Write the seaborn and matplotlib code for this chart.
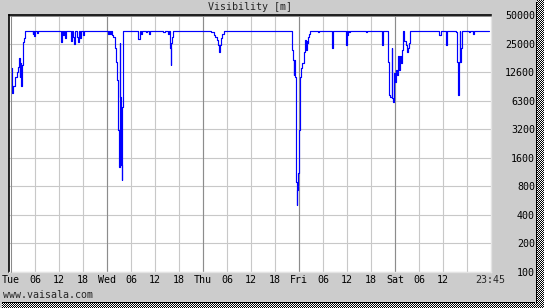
import numpy as np
import pandas as pd
import matplotlib
matplotlib.use("Agg")
import matplotlib.pyplot as plt
import seaborn as sns
from matplotlib.patches import Rectangle
from matplotlib.lines import Line2D
from matplotlib.ticker import NullLocator

# ---------------- data ----------------
TOP = 35000
# hours since Tue 00:00, visibility in metres (value holds until next time)
hours = [
    0.0, 0.15, 0.3, 0.6, 0.9, 1.1, 1.4, 1.7, 1.9, 2.0, 2.2, 2.35, 2.5, 2.75, 2.9, 3.15, 3.4,
    5.4, 5.6, 5.75, 5.9, 6.4, 6.75,
    12.4, 12.6, 12.85, 13.05, 13.25, 13.6, 13.85, 15.0, 15.25, 15.5, 15.7, 15.95,
    16.5, 16.8, 17.05, 17.2, 17.45, 17.9, 18.15,
    24.2, 24.5, 24.8, 25.1, 25.35, 25.6, 25.9, 26.1, 26.35, 26.55, 26.7, 26.85, 27.0,
    27.2, 27.35, 27.5, 27.7, 27.85, 28.05,
    31.7, 31.85, 32.2, 32.6, 32.8, 33.8, 34.0, 34.5, 34.7,
    38.0, 38.5, 39.2, 39.55, 39.7, 39.9, 40.1, 40.35, 40.6,
    49.9, 50.7, 51.1, 51.5, 51.75, 52.0, 52.2, 52.5, 52.85, 53.2,
    70.2, 70.3, 70.55, 70.7, 70.85, 71.0, 71.15, 71.3, 71.4, 71.55, 71.7, 71.85,
    72.05, 72.2, 72.35, 72.6, 72.85, 73.15, 73.35, 73.6, 73.75, 73.95, 74.15, 74.3,
    74.55, 74.8,
    76.7, 76.95, 80.3, 80.5, 83.7, 83.95, 84.1, 84.3, 84.5, 84.7, 88.7, 88.9,
    92.65, 92.95, 94.2, 94.45, 94.85, 95.15, 95.35, 95.55, 95.75, 95.95, 96.2, 96.5,
    96.75, 97.0, 97.3, 97.6, 97.85, 98.05, 98.35, 98.7, 98.95, 99.2, 99.45, 99.7,
    107.1, 107.45, 108.7, 108.95, 111.2, 111.6, 111.75, 111.95, 112.15, 112.35,
    112.6, 112.8, 114.4, 114.8, 115.5, 115.85, 119.5,
]
visibility = [
    14000, 10500, 7700, 9100, 9400, 11400, 12800, 14500, 16500, 18000, 11400, 16000, 9100, 15200, 26600, 29500, TOP,
    32000, TOP, 31000, TOP, 33000, TOP,
    31500, 26800, TOP, 31500, TOP, 29300, TOP, 27000, TOP, 30000, 25300, TOP,
    30000, 26600, TOP, 29300, TOP, 31500, TOP,
    32500, TOP, 32500, TOP, 31500, 30000, 26000, 22800, 16500, 10600, 5760, 3140, 1280,
    26000, 7000, 1340, 930, 5500, TOP,
    30000, 28500, TOP, 32000, TOP, 33500, TOP, 32000, TOP,
    33500, TOP, 32000, TOP, 22800, 15200, 26000, 30000, TOP,
    33500, 31500, 30000, 28000, 24500, 21000, 24500, 29000, 32000, TOP,
    29000, 21800, 17000, 12000, 17000, 11500, 2900, 890, 510, 730, 930, 1100,
    3140, 6200, 11500, 14000, 16000, 18500, 21000, 28000, 22000, 27000, 26000, 30000,
    32000, TOP,
    33500, TOP, 23000, TOP, 25000, TOP, 31500, TOP, 33500, TOP, 33500, TOP,
    25000, TOP, 16500, 7400, 7000, 23000, 6900, 6200, 12500, 10100, 13400, 11900,
    19000, 13400, 19000, 16000, 21800, TOP, 27000, 24500, 21000, 23000, 26000, TOP,
    31500, TOP, 25000, TOP, 33500, 16500, 7400, 16500, TOP, 16500,
    22800, TOP, 33500, TOP, 32000, TOP, TOP,
]

x_tick_hours = list(range(0, 120, 6))
x_tick_labels = ["Tue", "06", "12", "18", "Wed", "06", "12", "18", "Thu", "06", "12", "18",
                 "Fri", "06", "12", "18", "Sat", "06", "12", ""]
end_label_hour = 119.75
end_label = "23:45"
day_hours = [24, 48, 72, 96]
y_ticks = [100, 200, 400, 800, 1600, 3200, 6400, 12800, 25600, 51200]
y_labels = ["100", "200", "400", "800", "1600", "3200", "6300", "12600", "25000", "50000"]
title = "Visibility [m]"
footer = "www.vaisala.com"

# ---------------- style ----------------
sns.set_theme(style="white")
plt.rcParams['font.family'] = ['DejaVu Sans Mono', 'DejaVu Sans']
FS = 7.2
BG = '#cccccc'

W, H = 544, 308
fig = plt.figure(figsize=(W / 100, H / 100), dpi=100, facecolor=BG)


def fx(px):
    return px / W


def fy(py):
    return 1 - py / H


L, R, TP, B = 9, 491, 15, 272
ax = fig.add_axes([fx(L), fy(B), (R - L) / W, (B - TP) / H])
ax.set_facecolor('white')

df = pd.DataFrame({'hour': hours, 'vis': visibility})
sns.lineplot(data=df, x='hour', y='vis', ax=ax, color='#0000ff', lw=0.85,
             drawstyle='steps-post', zorder=5)

ax.set_yscale('log', base=2)
ax.set_ylim(100, 51200)
ax.set_xlim(-0.5, 120)
ax.set_xlabel('')
ax.set_ylabel('')

ax.set_yticks(y_ticks)
ax.set_yticklabels(y_labels)
ax.yaxis.set_minor_locator(NullLocator())
ax.yaxis.tick_right()
ax.tick_params(axis='y', length=0, pad=31.7, labelsize=FS, labelcolor='black')
for lbl in ax.get_yticklabels():
    lbl.set_horizontalalignment('right')

ax.set_xticks(x_tick_hours)
ax.set_xticklabels(x_tick_labels)
ax.tick_params(axis='x', length=0, pad=2.0, labelsize=FS, labelcolor='black')
ax.annotate(end_label, xy=(end_label_hour, 0), xycoords=ax.get_xaxis_transform(),
            xytext=(0, -2.0), textcoords='offset points', ha='center', va='top',
            fontsize=FS, annotation_clip=False)

ax.set_axisbelow(True)
ax.grid(True, which='major', color='#c8c8c8', lw=0.8)
for d in day_hours:
    ax.axvline(d, color='#8c8c8c', lw=0.8, zorder=1.5)

for s in ['left', 'top']:
    ax.spines[s].set_color('black')
    ax.spines[s].set_linewidth(1.2)
for s in ['right', 'bottom']:
    ax.spines[s].set_color('#e4e4e4')
    ax.spines[s].set_linewidth(1.0)

# inner grey bevel lines
fig.add_artist(Line2D([fx(10.6), fx(10.6)], [fy(16), fy(B)], color='#8a8a8a', lw=0.7))
fig.add_artist(Line2D([fx(10), fx(R)], [fy(16.4), fy(16.4)], color='#8a8a8a', lw=0.7))

fig.text(fx(250), fy(7), title, ha='center', va='center', fontsize=FS)
fig.text(fx(3), fy(295), footer, ha='left', va='center', fontsize=FS)

# dithered shadow border (right and bottom)
fig.add_artist(Rectangle((fx(2), fy(303)), fx(535) - fx(2), 1.5 / H, transform=fig.transFigure,
                         color='black', lw=0))
fig.add_artist(Rectangle((fx(535.5), fy(303)), 1.5 / W, (303 - 2) / H, transform=fig.transFigure,
                         color='black', lw=0))
rw = 7
axr = fig.add_axes([fx(537), 0, rw / W, 1])
ii, jj = np.mgrid[0:H, 0:rw]
axr.imshow((ii + jj) % 2, cmap='gray', interpolation='nearest', aspect='auto', vmin=0, vmax=1)
axr.axis('off')
bh, bw = 5, 535
axb = fig.add_axes([fx(2), 0, bw / W, bh / H])
ii, jj = np.mgrid[0:bh, 0:bw]
axb.imshow((ii + jj) % 2, cmap='gray', interpolation='nearest', aspect='auto', vmin=0, vmax=1)
axb.axis('off')

fig.savefig('out.png', dpi=100, facecolor=BG)
